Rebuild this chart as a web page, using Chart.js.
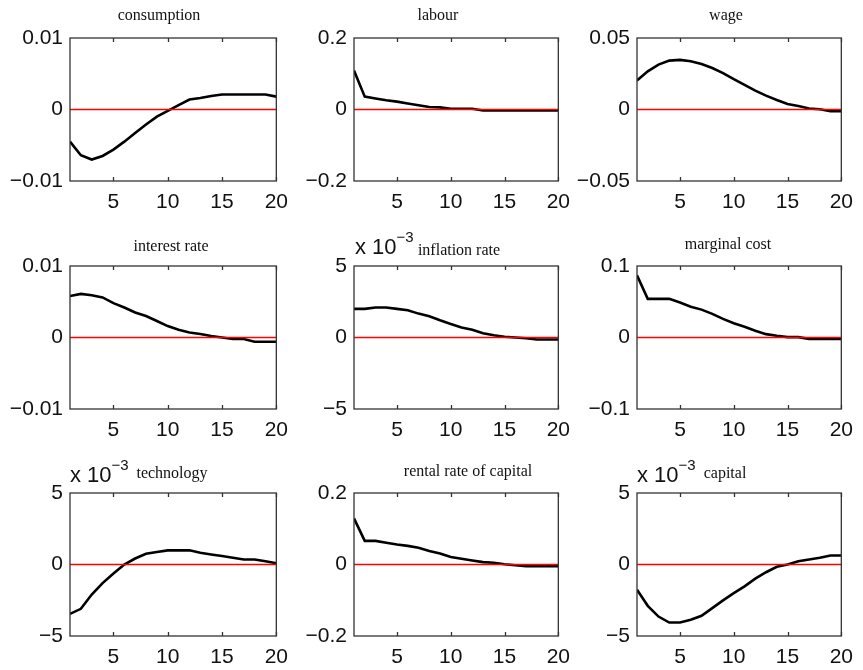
<!DOCTYPE html>
<html>
<head>
<meta charset="utf-8">
<script src="https://cdn.jsdelivr.net/npm/chart.js@4.4.1/dist/chart.umd.min.js"></script>
<style>
  html, body { margin: 0; padding: 0; background: #fff; }
  #wrap { position: relative; width: 863px; height: 670px; overflow: hidden; }
  #wrap canvas { position: absolute; }
  .ttl { position: absolute; font: 16px "Liberation Serif", serif; color: #111; white-space: nowrap;
         transform: translateX(-50%); line-height: 16px; }
  .mult { position: absolute; font: 22px "Liberation Sans", Arial, sans-serif; color: #111;
          line-height: 22px; white-space: nowrap; }
  .mult sup { font-size: 15px; line-height: 0; position: relative; top: -4px; }
</style>
</head>
<body>
<div id="wrap"></div>
<script>
// impulse responses, horizon 1..20
const steps = [1, 2, 3, 4, 5, 6, 7, 8, 9, 10, 11, 12, 13, 14, 15, 16, 17, 18, 19, 20];

const consumption = [-0.0045, -0.0064, -0.0070, -0.0065, -0.0056, -0.0045, -0.0033, -0.0021, -0.0010, -0.0002,
                     0.0006, 0.0014, 0.0016, 0.0019, 0.0021, 0.0021, 0.0021, 0.0021, 0.0021, 0.0018];
const labour = [0.109, 0.036, 0.031, 0.026, 0.022, 0.017, 0.012, 0.007, 0.006, 0.002,
                0.002, 0.002, -0.003, -0.003, -0.003, -0.003, -0.003, -0.003, -0.003, -0.003];
const wage = [0.0203, 0.0267, 0.0314, 0.0342, 0.0347, 0.0337, 0.0318, 0.0290, 0.0255, 0.0212,
              0.0172, 0.0132, 0.0097, 0.0066, 0.0038, 0.0024, 0.0007, 0.0002, -0.0012, -0.0012];
const interestRate = [0.0058, 0.0061, 0.0059, 0.0056, 0.0048, 0.0042, 0.0035, 0.0030, 0.0023, 0.0016,
                      0.0011, 0.0007, 0.0005, 0.0002, 0.0000, -0.0002, -0.0002, -0.0006, -0.0006, -0.0006];
// x 10^-3
const inflationRate = [2.0, 2.0, 2.1, 2.1, 2.0, 1.9, 1.67, 1.48, 1.2, 0.94,
                       0.7, 0.54, 0.3, 0.16, 0.05, 0.0, -0.05, -0.14, -0.14, -0.14];
const marginalCost = [0.087, 0.054, 0.054, 0.054, 0.049, 0.043, 0.039, 0.033, 0.026, 0.020,
                      0.015, 0.0094, 0.0047, 0.0024, 0.0005, 0.0005, -0.0019, -0.0019, -0.0019, -0.0019];
// x 10^-3
const technology = [-3.45, -3.1, -2.1, -1.3, -0.63, 0.0, 0.42, 0.75, 0.87, 0.99,
                    0.99, 0.99, 0.82, 0.70, 0.59, 0.47, 0.35, 0.35, 0.23, 0.09];
const rentalRate = [0.129, 0.066, 0.066, 0.061, 0.056, 0.052, 0.047, 0.038, 0.031, 0.021,
                    0.016, 0.011, 0.0066, 0.0047, 0.0009, -0.002, -0.0047, -0.0047, -0.0047, -0.0047];
// x 10^-3
const capital = [-1.76, -2.89, -3.64, -4.06, -4.06, -3.87, -3.59, -3.05, -2.51, -2.0,
                 -1.53, -0.99, -0.54, -0.16, 0.0, 0.23, 0.35, 0.47, 0.63, 0.63];

const titles = ['consumption', 'labour', 'wage', 'interest rate', 'inflation rate', 'marginal cost',
                'technology', 'rental rate of capital', 'capital'];
const yLimits = [0.01, 0.2, 0.05, 0.01, 5, 0.1, 5, 0.2, 5];
const yTickLabels = [
  ['\u22120.01', '0', '0.01'], ['\u22120.2', '0', '0.2'], ['\u22120.05', '0', '0.05'],
  ['\u22120.01', '0', '0.01'], ['\u22125', '0', '5'], ['\u22120.1', '0', '0.1'],
  ['\u22125', '0', '5'], ['\u22120.2', '0', '0.2'], ['\u22125', '0', '5']
];
const xTicks = [5, 10, 15, 20];
const scaledPanels = [4, 6, 8]; // panels carrying the "x 10^-3" multiplier

const series = [consumption, labour, wage, interestRate, inflationRate, marginalCost, technology, rentalRate, capital];

// layout of the 3x3 grid (plot boxes in page pixels)
const colLeft = [70, 354, 637];
const colWidth = [211, 209, 209];
const rowTop = [38, 266, 493];
const boxH = 143;
const titlePos = [[159, 7], [438, 7], [726, 7], [171, 238], [459, 242], [728, 236], [172, 465], [468, 463], [725, 465]];
const multPos = [null, null, null, null, [355, 236], null, [70, 464], null, [637, 464]];

const tickFont = { family: '"Liberation Sans", Arial, sans-serif', size: 21 };

const frame = {
  id: 'frame',
  afterDraw(chart) {
    const { ctx, chartArea: a, scales: { x, y } } = chart;
    ctx.save();
    ctx.strokeStyle = '#333';
    ctx.lineWidth = 1.3;
    ctx.strokeRect(a.left, a.top, a.right - a.left, a.bottom - a.top);
    ctx.beginPath();
    xTicks.forEach(v => {
      const px = Math.round(x.getPixelForValue(v)) + 0.5;
      ctx.moveTo(px, a.top); ctx.lineTo(px, a.top + 4);
      ctx.moveTo(px, a.bottom); ctx.lineTo(px, a.bottom - 4);
    });
    ctx.stroke();
    ctx.restore();
  }
};

const wrap = document.getElementById('wrap');

series.forEach((vals, i) => {
  const col = i % 3, row = Math.floor(i / 3);
  const padTop = 38, padLeft = 70, padRight = 16, axisH = 36;
  const cv = document.createElement('canvas');
  cv.width = padLeft + colWidth[col] + padRight;
  cv.height = padTop + boxH + axisH;
  cv.style.left = (colLeft[col] - padLeft) + 'px';
  cv.style.top = (rowTop[row] - padTop) + 'px';
  wrap.appendChild(cv);

  const lim = yLimits[i];
  const labels = yTickLabels[i];

  new Chart(cv, {
    type: 'line',
    data: {
      datasets: [
        {
          data: steps.map(s => ({ x: s, y: 0 })),
          borderColor: '#ff0000', borderWidth: 1.7, pointRadius: 0
        },
        {
          data: steps.map((s, k) => ({ x: s, y: vals[k] })),
          borderColor: '#000', borderWidth: 2.6, pointRadius: 0, tension: 0
        }
      ]
    },
    options: {
      responsive: false,
      animation: false,
      devicePixelRatio: 1,
      layout: { padding: { top: padTop, left: 0, right: padRight, bottom: 0 } },
      plugins: { legend: { display: false }, tooltip: { enabled: false } },
      scales: {
        x: {
          type: 'linear', min: 1, max: 20,
          grid: { display: false, drawTicks: false }, border: { display: false },
          afterBuildTicks: s => { s.ticks = xTicks.map(v => ({ value: v })); },
          afterFit: s => { s.height = axisH; },
          ticks: { padding: 9, maxRotation: 0, autoSkip: false, font: tickFont, color: '#111',
                   callback: v => String(v) }
        },
        y: {
          min: -lim, max: lim,
          grid: { display: false, drawTicks: false }, border: { display: false },
          afterBuildTicks: s => { s.ticks = [-lim, 0, lim].map(v => ({ value: v })); },
          afterFit: s => { s.width = padLeft; },
          ticks: { padding: 7, font: tickFont, color: '#111', callback: (v, k) => labels[k] }
        }
      }
    },
    plugins: [frame]
  });

  const t = document.createElement('div');
  t.className = 'ttl';
  t.textContent = titles[i];
  t.style.left = titlePos[i][0] + 'px';
  t.style.top = titlePos[i][1] + 'px';
  wrap.appendChild(t);

  if (scaledPanels.includes(i)) {
    const m = document.createElement('div');
    m.className = 'mult';
    m.innerHTML = 'x 10<sup>\u22123</sup>';
    m.style.left = multPos[i][0] + 'px';
    m.style.top = multPos[i][1] + 'px';
    wrap.appendChild(m);
  }
});
</script>
</body>
</html>
